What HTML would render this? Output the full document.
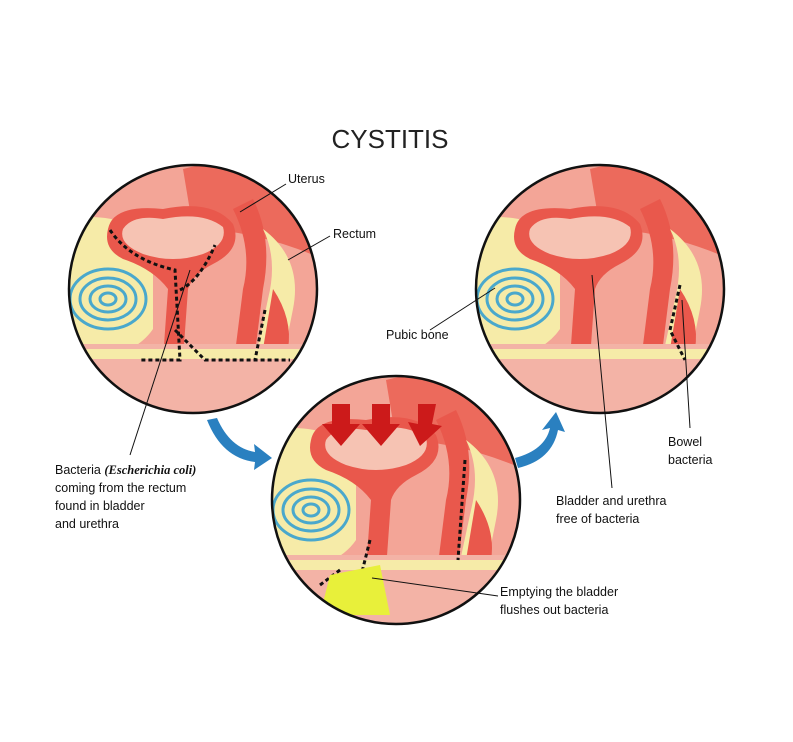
<!DOCTYPE html>
<html><head><meta charset="utf-8"><style>
html,body{margin:0;padding:0;background:#fff;}
svg{display:block;font-family:"Liberation Sans",sans-serif;}
</style></head><body>
<svg width="793" height="742" viewBox="0 0 793 742" xmlns="http://www.w3.org/2000/svg">
<defs>
<clipPath id="c1"><circle cx="193" cy="289" r="124"/></clipPath>
<clipPath id="c2"><circle cx="396" cy="500" r="124"/></clipPath>
<clipPath id="c3"><circle cx="600" cy="289" r="124"/></clipPath>
<g id="anat">
<rect x="-130" y="-130" width="260" height="260" fill="#f3a597"/>
<path d="M-130,-70 Q-60,-80 -40,-40 L-40,40 Q-60,70 -130,80 Z" fill="#f6eba8"/>
<path d="M-10,-120 Q60,-140 130,-90 L130,-30 Q60,-60 0,-60 Z" fill="#ec6a5c"/>
<path d="M-85,-60 Q-80,-85 -30,-80 Q20,-90 40,-65 Q50,-40 20,-25 Q0,-15 -5,0 L-10,70 L-30,70 L-25,0 Q-40,-20 -70,-30 Q-90,-40 -85,-60 Z" fill="#e9584c"/>
<path d="M-70,-60 Q-60,-75 -30,-70 Q10,-78 30,-62 Q35,-45 10,-35 Q-20,-25 -50,-35 Q-75,-45 -70,-60 Z" fill="#f6c3b3"/>
<path d="M40,-80 Q60,-40 50,0 L40,80 L60,80 L70,0 Q80,-50 60,-90 Z" fill="#e9584c"/>
<path d="M70,-60 Q110,-30 100,20 L90,70 Q80,90 60,80 L75,10 Q85,-30 70,-60Z" fill="#f6eba8"/>
<path d="M80,0 Q100,30 95,60 L85,80 L70,60 Z" fill="#e9584c"/>
<rect x="-130" y="55" width="260" height="80" fill="#f3b3a6"/>
<path d="M-130,60 L130,60 L130,70 L-130,70Z" fill="#f6eba8"/>
<g fill="none" stroke="#4aa8cc" stroke-width="3">
<ellipse cx="-85" cy="10" rx="38" ry="30"/>
<ellipse cx="-85" cy="10" rx="28" ry="21"/>
<ellipse cx="-85" cy="10" rx="18" ry="13"/>
<ellipse cx="-85" cy="10" rx="8" ry="6"/>
</g>
</g>
</defs>

<text x="390" y="148" font-size="26" text-anchor="middle" fill="#222">CYSTITIS</text>

<g clip-path="url(#c1)"><use href="#anat" transform="translate(193,289)"/>
<g fill="none" stroke="#111" stroke-width="3" stroke-dasharray="4,3">
<path d="M110,230 Q130,260 175,270 L180,360 L140,360"/>
<path d="M180,290 Q200,280 215,245"/>
<path d="M175,330 L205,360 L290,360"/>
<path d="M265,310 L255,360"/>
</g></g>
<circle cx="193" cy="289" r="124" fill="none" stroke="#111" stroke-width="2.5"/>

<g clip-path="url(#c2)"><use href="#anat" transform="translate(396,500)"/>
<g fill="none" stroke="#111" stroke-width="3" stroke-dasharray="4,3">
<path d="M465,460 L458,560"/><path d="M370,540 L360,580"/>
<path d="M320,585 L340,570"/>
</g>
<path d="M330,575 L380,565 L390,615 L320,615 Z" fill="#e8f03a"/>
</g>
<circle cx="396" cy="500" r="124" fill="none" stroke="#111" stroke-width="2.5"/>
<g fill="#cc1a1a">
<path d="M332,404 h18 v20 h10 l-19,22 l-19,-22 h10Z"/>
<path d="M372,404 h18 v20 h10 l-19,22 l-19,-22 h10Z"/>
<path d="M418,404 h18 l-4,20 l10,2 l-22,20 l-12,-24 l10,2Z"/>
</g>

<g clip-path="url(#c3)"><use href="#anat" transform="translate(600,289)"/>
<g fill="none" stroke="#111" stroke-width="3" stroke-dasharray="4,3">
<path d="M680,285 L670,330 L685,360"/>
</g></g>
<circle cx="600" cy="289" r="124" fill="none" stroke="#111" stroke-width="2.5"/>

<g fill="#2a80c0">
<path d="M217,418 Q230,448 255,452 L254,444 L272,458 L254,470 L255,462 Q222,458 207,420Z"/>
<path d="M515,458 Q545,450 550,428 L542,430 L556,412 L565,432 L558,430 Q552,460 518,468Z"/>
</g>

<g stroke="#111" stroke-width="1" fill="none">
<line x1="286" y1="184" x2="240" y2="212"/>
<line x1="330" y1="236" x2="288" y2="260"/>
<line x1="190" y1="270" x2="130" y2="455"/>
<line x1="430" y1="330" x2="495" y2="288"/>
<line x1="592" y1="275" x2="612" y2="488"/>
<line x1="682" y1="300" x2="690" y2="428"/>
<line x1="372" y1="578" x2="498" y2="596"/>
</g>
<g font-size="12.5" fill="#111">
<text x="288" y="183">Uterus</text>
<text x="333" y="238">Rectum</text>
<text x="386" y="339">Pubic bone</text>
<text x="55" y="474">Bacteria <tspan font-family="Liberation Serif" font-style="italic" font-weight="bold">(Escherichia coli)</tspan></text>
<text x="55" y="492">coming from the rectum</text>
<text x="55" y="510">found in bladder</text>
<text x="55" y="528">and urethra</text>
<text x="668" y="446">Bowel</text>
<text x="668" y="464">bacteria</text>
<text x="556" y="505">Bladder and urethra</text>
<text x="556" y="523">free of bacteria</text>
<text x="500" y="596">Emptying the bladder</text>
<text x="500" y="614">flushes out bacteria</text>
</g>
</svg>
</body></html>
